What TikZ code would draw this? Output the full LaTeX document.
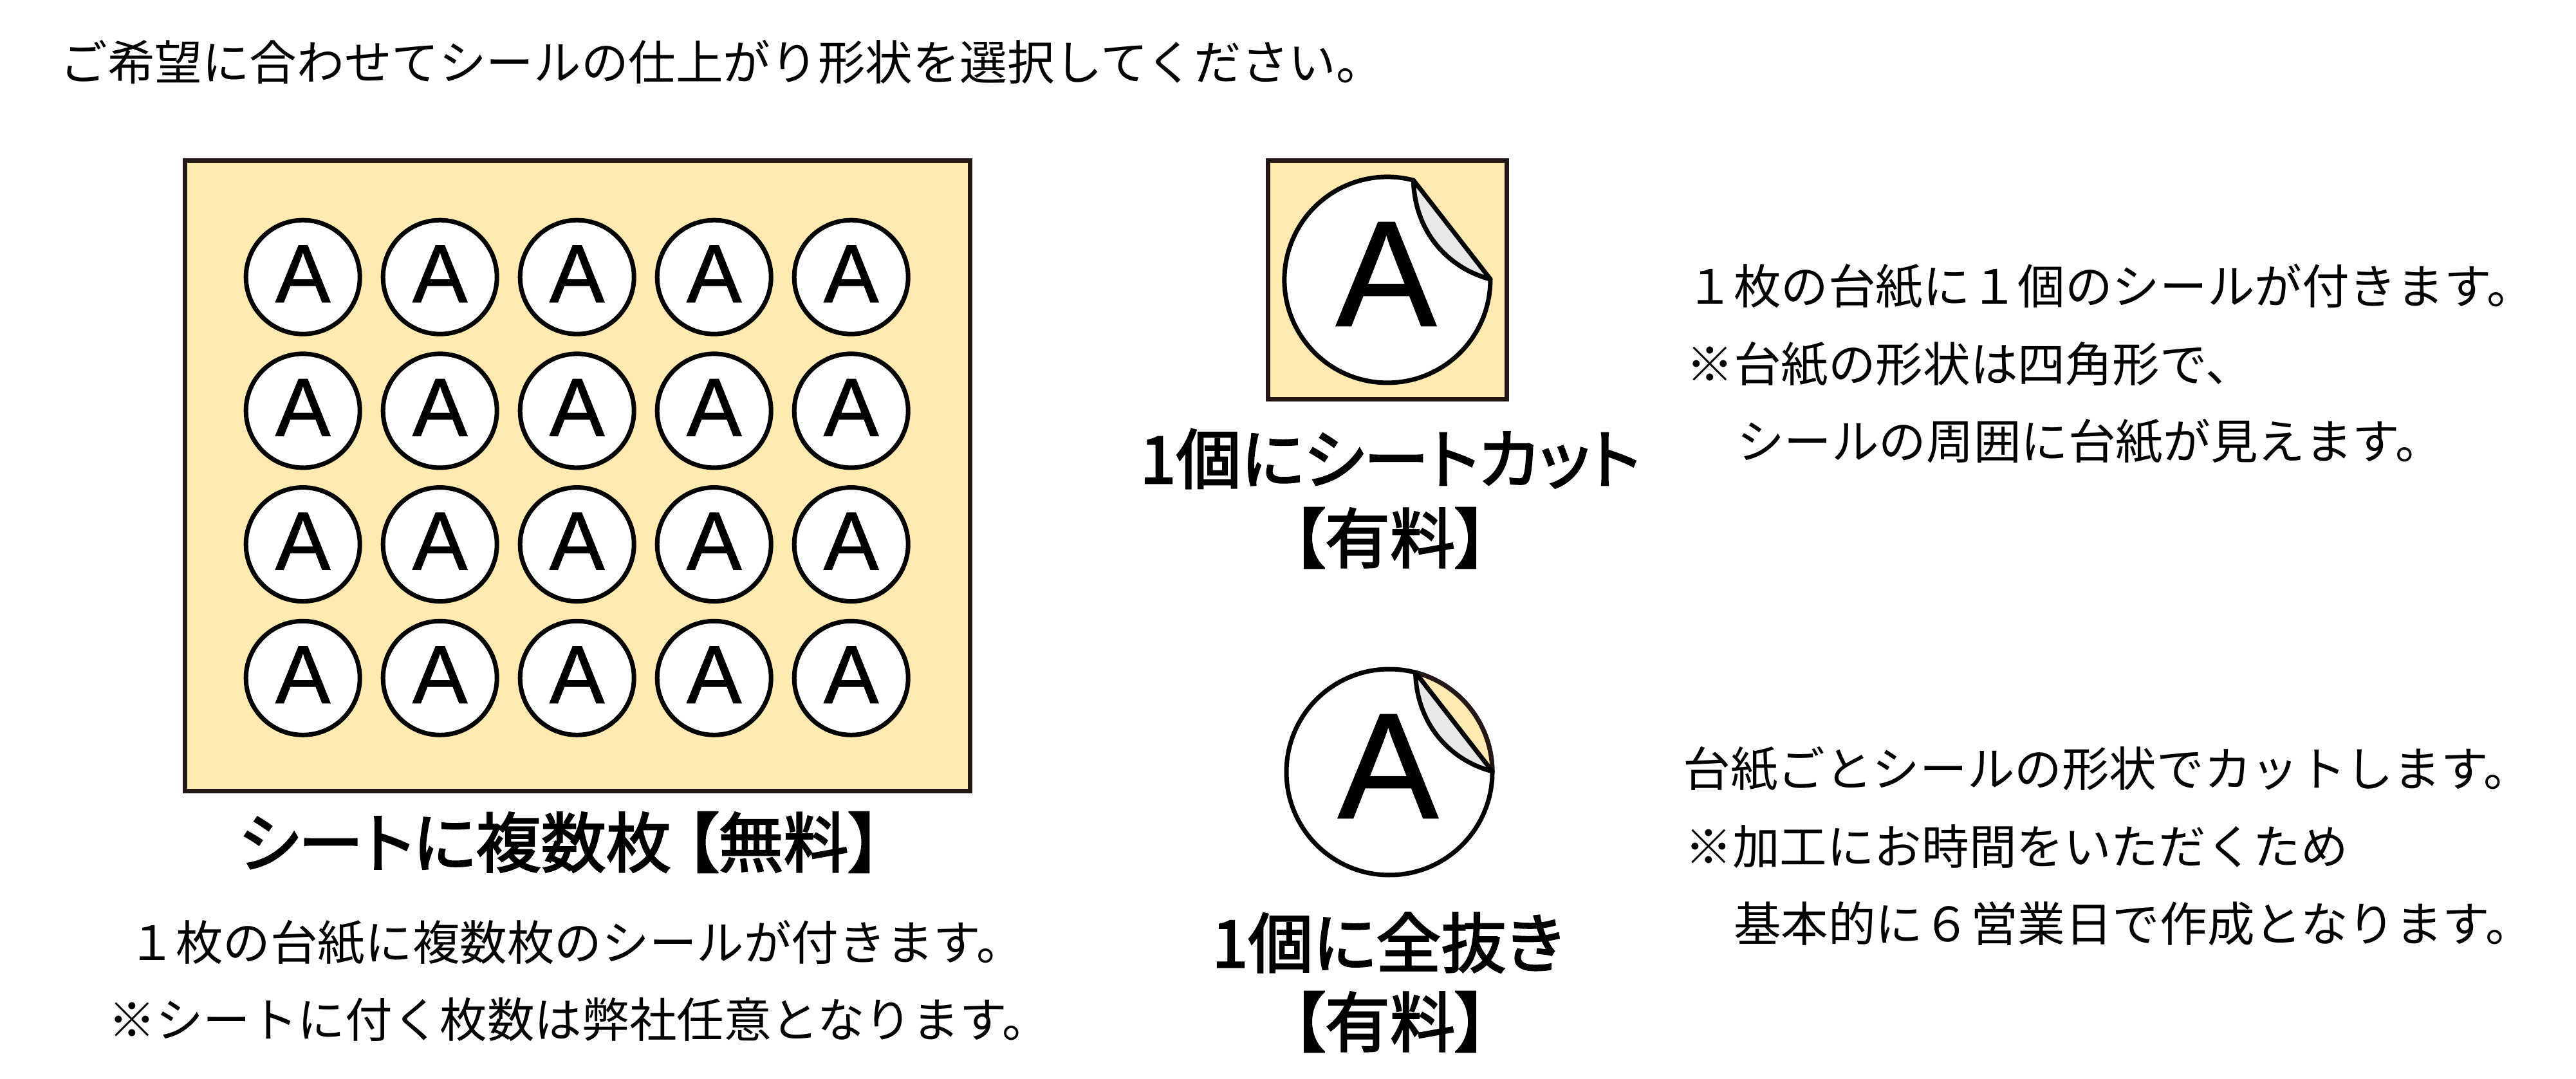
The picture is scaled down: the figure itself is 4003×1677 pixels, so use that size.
\documentclass[tikz,border=0pt]{standalone}
\usepackage{fontspec}
\setmainfont{Noto Sans CJK JP}
\newfontfamily\headfont[RawFeature=+palt,FakeBold=2.5]{Noto Sans CJK JP}
\newfontfamily\letterfont[FakeBold=1]{Liberation Sans}
\definecolor{sheetcream}{RGB}{255,234,178}
\definecolor{flapgray}{RGB}{232,232,232}
\definecolor{framebrown}{RGB}{35,24,21}
\tikzset{
  every picture/.style={line width=1.75pt},
  sheet/.style={draw=framebrown,fill=sheetcream,line width=1.75pt},
  sticker/.style={circle,draw=black,fill=white,line width=1.75pt,minimum size=44.25pt,inner sep=0pt,text depth=2.5pt,font=\letterfont\fontsize{32}{32}\selectfont},
  bigletter/.style={inner sep=0pt,font=\letterfont\fontsize{58.3}{58.3}\selectfont},
  bodytext/.style={anchor=west,inner sep=0pt,font=\fontsize{18.4}{18.4}\selectfont},
  headtext/.style={anchor=center,inner sep=0pt,font=\headfont\fontsize{25.3}{25.3}\selectfont}
}
\begin{document}
\begin{tikzpicture}[x=0.25pt,y=0.25pt,yscale=-1,xscale=1]
\useasboundingbox (0,0) rectangle (4003,1677);

%Shape: Rectangle
\draw [sheet] (287,250) rectangle (1507,1229);
%Shape: Rectangle
\draw [sheet] (1970.5,250) rectangle (2341.5,620.5);

%Shape: Circle row 1
\draw (470.7,430.7) node [sticker] (s11) {A};
\draw (683.7,430.7) node [sticker] (s12) {A};
\draw (896.7,430.7) node [sticker] (s13) {A};
\draw (1109.7,430.7) node [sticker] (s14) {A};
\draw (1322.7,430.7) node [sticker] (s15) {A};
%Shape: Circle row 2
\draw (470.7,638.4) node [sticker] (s21) {A};
\draw (683.7,638.4) node [sticker] (s22) {A};
\draw (896.7,638.4) node [sticker] (s23) {A};
\draw (1109.7,638.4) node [sticker] (s24) {A};
\draw (1322.7,638.4) node [sticker] (s25) {A};
%Shape: Circle row 3
\draw (470.7,846.1) node [sticker] (s31) {A};
\draw (683.7,846.1) node [sticker] (s32) {A};
\draw (896.7,846.1) node [sticker] (s33) {A};
\draw (1109.7,846.1) node [sticker] (s34) {A};
\draw (1322.7,846.1) node [sticker] (s35) {A};
%Shape: Circle row 4
\draw (470.7,1053.8) node [sticker] (s41) {A};
\draw (683.7,1053.8) node [sticker] (s42) {A};
\draw (896.7,1053.8) node [sticker] (s43) {A};
\draw (1109.7,1053.8) node [sticker] (s44) {A};
\draw (1322.7,1053.8) node [sticker] (s45) {A};

%Peeled sticker on its square
\draw [fill=white,line join=round] (2196.5,280.2) arc (-75.3:-360.4:160) .. controls (2250,416.7) and (2198.3,360) .. cycle;
\draw [fill=flapgray,line join=round] (2196.5,280.2) -- (2316,433.9) .. controls (2250,416.7) and (2198.3,360) .. cycle;
%Peeled sticker, cut out
\draw [fill=white] (2159,1200) circle (160);
\draw [draw=framebrown,fill=sheetcream,line join=round] (2199.5,1045.2) arc (-75.3:-0.4:160) -- cycle;
\draw [fill=flapgray,line join=round] (2199.5,1045.2) -- (2319,1198.9) .. controls (2253,1181.7) and (2201.3,1125) .. cycle;

% Text Node
\draw (2154,426) node [bigletter] (bigA) {A};
\draw (2157,1191) node [bigletter] (cutA) {A};
\draw (90,97) node [bodytext] (intro) {ご希望に合わせてシールの仕上がり形状を選択してください。};
% Text Node
\draw (870,1309) node [headtext] (sheetHead) {シートに複数枚 【無料】};
\draw (196,1465) node [bodytext] (sheetA) {１枚の台紙に複数枚のシールが付きます。};
\draw (165,1585) node [bodytext] (sheetB) {※シートに付く枚数は弊社任意となります。};
% Text Node
\draw (2160,713) node [headtext] (kissHead) {1個にシートカット};
\draw (2160,836) node [headtext] (kissFee) {【有料】};
\draw (2156,1465) node [headtext] (dieHead) {1個に全抜き};
\draw (2160,1588) node [headtext] (dieFee) {【有料】};
% Text Node
\draw (2617,445) node [bodytext] (kissA) {１枚の台紙に１個のシールが付きます。};
\draw (2617,566) node [bodytext] (kissB) {※台紙の形状は四角形で、};
\draw (2622,686) node [bodytext] (kissC) {　シールの周囲に台紙が見えます。};
% Text Node
\draw (2612,1195) node [bodytext] (dieA) {台紙ごとシールの形状でカットします。};
\draw (2615,1316) node [bodytext] (dieB) {※加工にお時間をいただくため};
\draw (2617,1436) node [bodytext] (dieC) {　基本的に６営業日で作成となります。};
\end{tikzpicture}
\end{document}
